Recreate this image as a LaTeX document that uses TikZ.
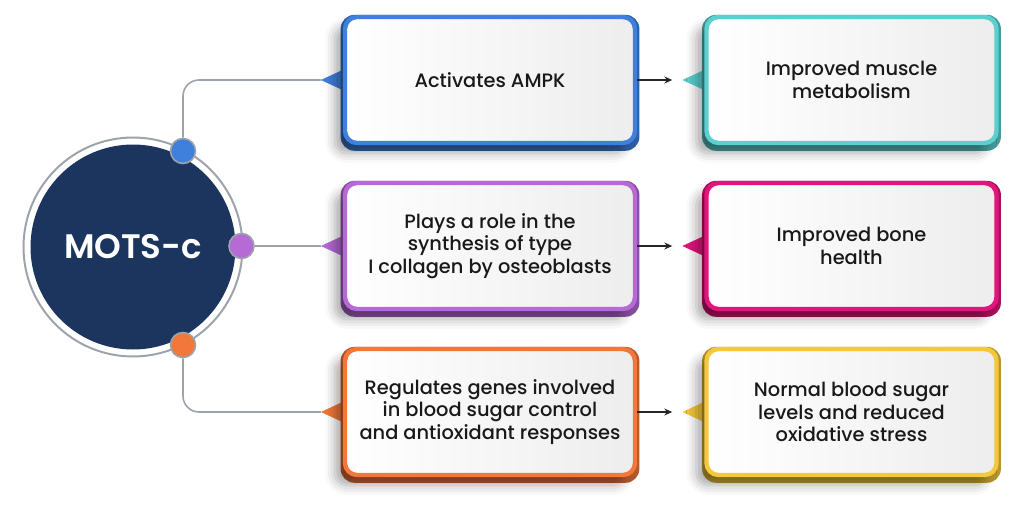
\documentclass[tikz,border=0pt]{standalone}
\usepackage{fontspec}
\setmainfont{Poppins}[UprightFont=* Medium, BoldFont=* SemiBold]
\usetikzlibrary{arrows.meta,shadows.blur,backgrounds,calc}
\definecolor{navy}{HTML}{1C355E}
\definecolor{cblue}{HTML}{3F80DC}
\definecolor{cpurple}{HTML}{B66AD6}
\definecolor{corange}{HTML}{F2773A}
\definecolor{cteal}{HTML}{5CCFCF}
\definecolor{cpink}{HTML}{E3157C}
\definecolor{cyellow}{HTML}{F4C83C}
\definecolor{linegray}{HTML}{9CA3AB}
\tikzset{
  karte/.style={rectangle, rounded corners=6pt, minimum width=145pt, minimum height=63pt,
    draw=#1, line width=2.2pt, left color=white, right color=gray!14, align=center,
    font=\fontsize{9.7}{11.3}\selectfont, text=black!90,
    blur shadow={shadow xshift=-5pt, shadow yshift=-5pt, shadow blur radius=5pt, shadow opacity=35}},
  punkt/.style={circle, fill=#1, draw=linegray, line width=0.8pt, minimum size=12.5pt, inner sep=0pt},
  verbinder/.style={linegray, line width=0.8pt, rounded corners=8pt},
  pfeil/.style={-{Stealth[length=4pt,width=3.5pt]}, line width=0.6pt, black!85},
}
\begin{document}
\begin{tikzpicture}[x=0.5pt, y=-0.5pt]
  \useasboundingbox (0,0) rectangle (1024,509);
  % Mittelkreis
  \draw[linegray, line width=1pt] (133,247) circle (54.75pt);
  \node[circle, fill=navy, minimum size=102.5pt, inner sep=0pt, text=white,
    font=\fontsize{17}{17}\selectfont\bfseries] (mots) at (133,247) {MOTS-c};
  % Karten links
  \node[karte=cblue]   (a1) at (490,80)  {Activates AMPK};
  \node[karte=cpurple] (a2) at (490,246) {Plays a role in the\\synthesis of type\\I collagen by osteoblasts};
  \node[karte=corange] (a3) at (490,412) {Regulates genes involved\\in blood sugar control\\and antioxidant responses};
  % Karten rechts
  \node[karte=cteal]   (b1) at (851.5,80)  {Improved muscle\\metabolism};
  \node[karte=cpink]   (b2) at (851.5,246) {Improved bone\\health};
  \node[karte=cyellow] (b3) at (851.5,412) {Normal blood sugar\\levels and reduced\\oxidative stress};
  % Spitzen und dunkle Unterkanten
  \begin{scope}[on background layer]
    \foreach \k/\c in {a1/cblue,a2/cpurple,a3/corange,b1/cteal,b2/cpink,b3/cyellow}{
      \coordinate (t\k) at ($(\k.west)+(-22,0)$);
      \fill[\c] (t\k) -- ($(\k.west)+(4,-12)$) -- ($(\k.west)+(4,12)$) -- cycle;
      \fill[\c!75!black, rounded corners=7pt] ([shift={(-1.1pt,-2.8pt)}]\k.south west)
        rectangle ([shift={(1.1pt,0pt)}]\k.north east);
    }
  \end{scope}
  % Punkte am Kreis
  \node[punkt=cblue]   (pA) at (183,151) {};
  \node[punkt=cpurple] (pB) at (241.5,246) {};
  \node[punkt=corange] (pC) at (183,345) {};
  % Verbindungen
  \draw[verbinder] (pA) |- (ta1);
  \draw[verbinder] (pB) -- (ta2);
  \draw[verbinder] (pC) |- (ta3);
  \foreach \i in {1,2,3}{
    \draw[pfeil] (a\i.east) -- ($(tb\i)+(-10,0)$);
  }
\end{tikzpicture}
\end{document}
